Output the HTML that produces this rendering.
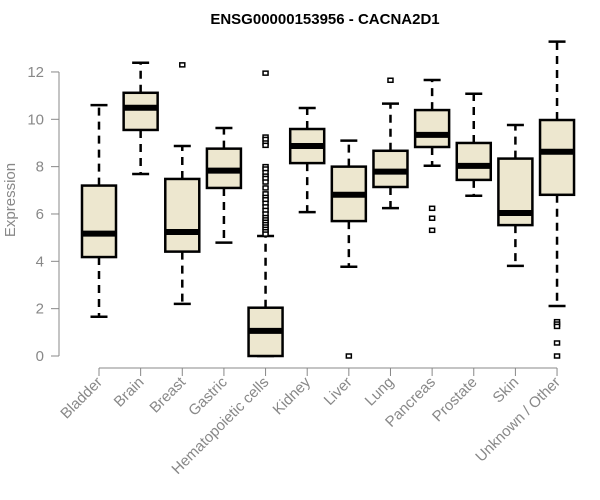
<!DOCTYPE html>
<html><head><meta charset="utf-8"><style>
html,body{margin:0;padding:0;background:#fff;}
svg{display:block;font-family:"Liberation Sans",Arial,sans-serif;}
</style></head><body>
<svg id="chart" width="600" height="500">
<text x="325" y="24" text-anchor="middle" font-size="15" font-weight="bold" fill="#000">ENSG00000153956 - CACNA2D1</text>
<text transform="translate(15,200) rotate(-90)" text-anchor="middle" font-size="15" fill="#888">Expression</text>
<g id="yaxis"></g>
<g id="xaxis"></g>
<g id="boxes"></g>
</svg>
<script>
const categories=["Bladder","Brain","Breast","Gastric","Hematopoietic cells","Kidney","Liver","Lung","Pancreas","Prostate","Skin","Unknown / Other"];
const lowerWhisker=[1.66,7.69,2.2,4.79,0,6.08,3.77,6.25,8.04,6.77,3.81,2.11];
const q1=[4.18,9.55,4.41,7.1,0,8.15,5.7,7.14,8.83,7.44,5.53,6.81];
const medians=[5.17,10.49,5.24,7.83,1.06,8.87,6.81,7.79,9.34,8.03,6.04,8.63];
const q3=[7.2,11.12,7.48,8.76,2.04,9.59,8.0,8.67,10.39,9.0,8.34,9.97];
const upperWhisker=[10.6,12.39,8.87,9.63,5.07,10.48,9.1,10.66,11.66,11.08,9.76,13.28];
const outliers=[[],[],[12.3],[],[11.95,9.25,9.15,9.0,8.9,8.0,7.9,7.75,7.6,7.5,7.35,7.1,6.85,6.7,6.6,6.45,6.3,6.15,6.0,5.85,5.75,5.65,5.55,5.45,5.35,5.25,5.15],[],[0],[11.65],[6.24,5.82,5.31],[],[],[1.45,1.35,1.25,0.55,0]];
const yTicks=[0,2,4,6,8,10,12];
const NS="http://www.w3.org/2000/svg";
function y(v){return 356-v*23.67;}
function x(i){return 99+i*41.64;}
function mk(tag,attrs,parent){const e=document.createElementNS(NS,tag);for(const k in attrs)e.setAttribute(k,attrs[k]);parent.appendChild(e);return e;}
const ya=document.getElementById('yaxis'),xa=document.getElementById('xaxis'),bx=document.getElementById('boxes');
let l=mk('line',{x1:59,x2:59,y1:y(0),y2:y(12),stroke:'#888'},ya);


yTicks.forEach(t=>{
 const tk=mk('line',{x1:51,x2:59,y1:y(t),y2:y(t),stroke:'#888'},ya);
 
 
 const tx=mk('text',{x:44,y:y(t)+5,'text-anchor':'end','font-size':15,fill:'#888'},ya);
 tx.textContent=t;
 
 
});
l=mk('line',{x1:x(0),x2:x(categories.length-1),y1:368,y2:368,stroke:'#888'},xa);


categories.forEach((c,i)=>{
 const cx=x(i);
 const tk=mk('line',{x1:cx,x2:cx,y1:368,y2:376,stroke:'#888'},xa);
 
 
 const tx=mk('text',{transform:`translate(${cx+4},${383}) rotate(-45)`,'text-anchor':'end','font-size':15,fill:'#888'},xa);
 tx.textContent=c;
 
 
 const g=mk('g',{},bx);
 
 
 const hw=17;
 mk('line',{x1:cx,x2:cx,y1:y(q3[i]),y2:y(upperWhisker[i]),stroke:'#000','stroke-width':2.5,'stroke-dasharray':'8,6'},g);
 mk('line',{x1:cx,x2:cx,y1:y(q1[i]),y2:y(lowerWhisker[i]),stroke:'#000','stroke-width':2.5,'stroke-dasharray':'8,6'},g);
 mk('line',{x1:cx-8.5,x2:cx+8.5,y1:y(upperWhisker[i]),y2:y(upperWhisker[i]),stroke:'#000','stroke-width':2.5},g);
 mk('line',{x1:cx-8.5,x2:cx+8.5,y1:y(lowerWhisker[i]),y2:y(lowerWhisker[i]),stroke:'#000','stroke-width':2.5},g);
 mk('rect',{x:cx-hw,y:y(q3[i]),width:hw*2,height:y(q1[i])-y(q3[i]),fill:'#ede7cf',stroke:'#000','stroke-width':2.5},g);
 mk('line',{x1:cx-hw,x2:cx+hw,y1:y(medians[i]),y2:y(medians[i]),stroke:'#000','stroke-width':6},g);
 outliers[i].forEach(o=>{
  const p=mk('rect',{x:cx-2.5,y:y(o)-2,width:5,height:4,fill:'#fff',stroke:'#000','stroke-width':1.5},g);
  
  
 });
});
</script>
</body></html>
